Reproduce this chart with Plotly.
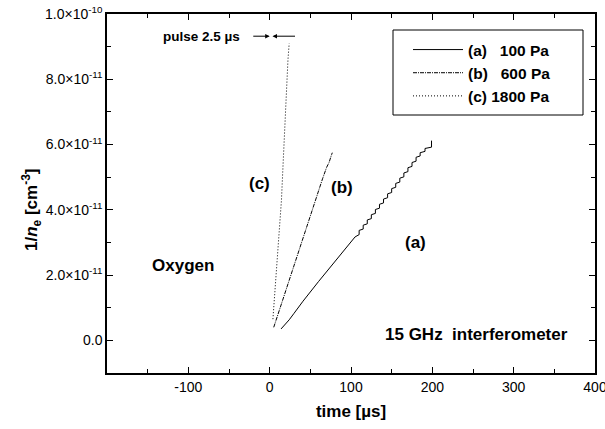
import plotly.graph_objects as go

E = 1e-11  # unit of the values below (cm^3)

# (a) 100 Pa
a_t = [14, 18, 24, 30, 41, 60, 80, 100, 105,
       110, 110, 115, 115, 120, 120, 125, 125, 130, 130, 135, 135, 140, 140,
       145, 145, 150, 150, 155, 155, 160, 160, 165, 165, 170, 170, 175, 175,
       180, 180, 185, 185, 191, 191, 199, 199]
a_v = [0.35, 0.45, 0.63, 0.83, 1.2, 1.8, 2.42, 3.04, 3.17,
       3.24, 3.37, 3.41, 3.53, 3.57, 3.69, 3.73, 3.85, 3.89, 4.01, 4.05, 4.17, 4.21, 4.33,
       4.37, 4.49, 4.53, 4.65, 4.69, 4.81, 4.85, 4.97, 5.01, 5.13, 5.17, 5.29, 5.33, 5.45,
       5.49, 5.61, 5.65, 5.75, 5.79, 5.88, 5.92, 6.12]

# (b) 600 Pa
b_t = [5, 10, 20, 30, 40, 50, 55.5, 60, 65, 70, 73, 76, 77]
b_v = [0.4, 0.78, 1.55, 2.3, 3.1, 3.85, 4.28, 4.6, 4.95, 5.3, 5.45, 5.68, 5.75]

# (c) 1800 Pa
c_t = [4, 7, 10, 12.5, 14.5, 16.5, 18.5, 20.5, 22.5, 24]
c_v = [0.65, 1.7, 2.75, 3.6, 4.3, 5.4, 6.6, 7.7, 8.6, 9.1]

series_names = ["<b>(a)\u00a0\u00a0\u00a0100 Pa</b>", "<b>(b)\u00a0\u00a0\u00a0600 Pa</b>", "<b>(c) 1800 Pa</b>"]

y_tickvals = [0, 2e-11, 4e-11, 6e-11, 8e-11, 1e-10]
y_ticktext = ["0.0", "2.0×10<sup>-11</sup>", "4.0×10<sup>-11</sup>", "6.0×10<sup>-11</sup>",
              "8.0×10<sup>-11</sup>", "1.0×10<sup>-10</sup>"]
x_tickvals = [-100, 0, 100, 200, 300, 400]
x_ticktext = ["-100", "0", "100", "200", "300", "400"]

FONT = "Liberation Sans, Arial, sans-serif"

fig = go.Figure()
fig.add_trace(go.Scatter(x=a_t, y=[v * E for v in a_v], mode="lines", name=series_names[0],
                         line=dict(color="black", width=1)))
fig.add_trace(go.Scatter(x=b_t, y=[v * E for v in b_v], mode="lines", name=series_names[1],
                         line=dict(color="black", width=1, dash="4px,1px,1px,1px")))
fig.add_trace(go.Scatter(x=c_t, y=[v * E for v in c_v], mode="lines", name=series_names[2],
                         line=dict(color="black", width=1, dash="1px,2px")))

axis_common = dict(showline=True, linecolor="black", linewidth=1.5, mirror="ticks",
                   ticks="inside", ticklen=6, tickwidth=1, tickcolor="black",
                   showgrid=False, zeroline=False, automargin=False,
                   ticklabeloverflow="allow",
                   tickfont=dict(family=FONT, size=14, color="black"))

fig.update_xaxes(range=[-200, 400], tickvals=x_tickvals, ticktext=x_ticktext,
                 minor=dict(ticks="inside", ticklen=4, tickcolor="black", dtick=50, tick0=-200),
                 title=dict(text="<b>time [µs]</b>", font=dict(family=FONT, size=17, color="black"), standoff=12),
                 **axis_common)
fig.update_yaxes(range=[-1e-11, 1e-10], tickvals=y_tickvals, ticktext=y_ticktext,
                 minor=dict(ticks="inside", ticklen=4, tickcolor="black", dtick=1e-11, tick0=-1e-11),
                 **axis_common)

ann_font = dict(family=FONT, size=17, color="black")
annotations = [
    dict(x=-12, y=4.8e-11, text="<b>(c)</b>"),
    dict(x=88.5, y=4.68e-11, text="<b>(b)</b>"),
    dict(x=179, y=3.0e-11, text="<b>(a)</b>"),
    dict(x=-106, y=2.28e-11, text="<b>Oxygen</b>"),
    dict(x=254, y=0.18e-11, text="<b>15 GHz\u00a0\u00a0interferometer</b>"),
]
for a in annotations:
    fig.add_annotation(xref="x", yref="y", showarrow=False, font=ann_font, **a)

fig.add_annotation(xref="x", yref="y", x=-84, y=9.32e-11, text="<b>pulse 2.5 µs</b>",
                   showarrow=False, font=dict(family=FONT, size=13.5, color="black"))
fig.add_annotation(xref="x", yref="y", axref="x", ayref="y", x=0, y=9.32e-11, ax=-22, ay=9.32e-11,
                   text="", showarrow=True, arrowhead=2, arrowsize=0.9, arrowwidth=1, arrowcolor="black")
fig.add_annotation(xref="x", yref="y", axref="x", ayref="y", x=3.5, y=9.32e-11, ax=33, ay=9.32e-11,
                   text="", showarrow=True, arrowhead=2, arrowsize=0.9, arrowwidth=1, arrowcolor="black")

fig.add_annotation(xref="paper", yref="paper", x=(31 - 107) / 488, y=(373 - 210) / 359,
                   xanchor="center", yanchor="middle", textangle=-90, showarrow=False,
                   text="<b>1/<i>n</i><sub>e</sub> [cm<sup>-3</sup>]</b>",
                   font=dict(family=FONT, size=17, color="black"))

# legend frame
fig.add_shape(type="rect", xref="paper", yref="paper",
              x0=(393 - 107) / 488, x1=(583 - 107) / 488,
              y0=(373 - 115) / 359, y1=(373 - 30) / 359,
              line=dict(color="black", width=1), fillcolor="rgba(0,0,0,0)", layer="above")

fig.update_layout(
    width=605, height=429,
    margin=dict(l=107, r=10, t=14, b=56, autoexpand=False),
    paper_bgcolor="white", plot_bgcolor="white",
    showlegend=True,
    legend=dict(x=(408 - 107) / 488, y=(373 - 33) / 359, xanchor="left", yanchor="top",
                borderwidth=0, bgcolor="rgba(0,0,0,0)",
                font=dict(family=FONT, size=15.5, color="black"),
                itemwidth=50, tracegroupgap=0),
)

fig.write_html("out.html", config={"displayModeBar": False},
               post_script="document.body.style.margin='0px';")
